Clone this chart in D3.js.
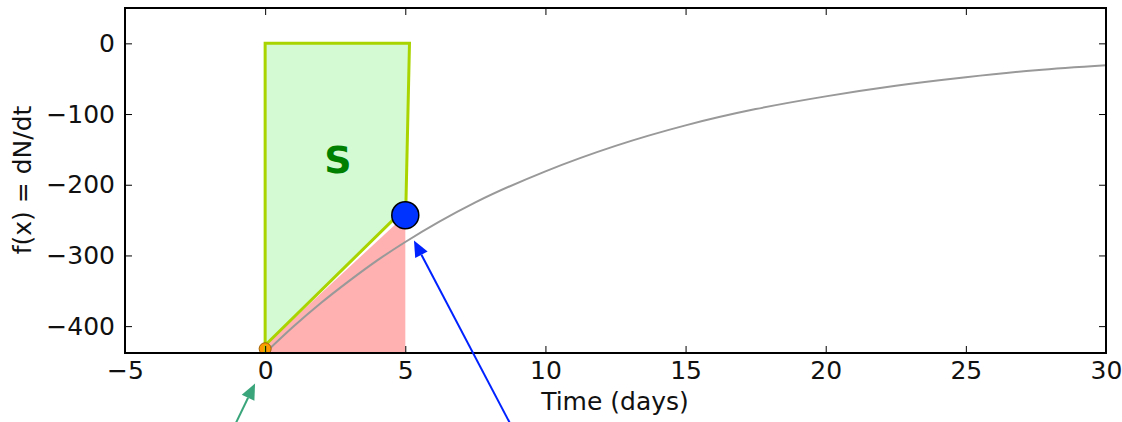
<!DOCTYPE html>
<html>
<head>
<meta charset="utf-8">
<script src="https://cdn.jsdelivr.net/npm/d3@7"></script>
<style>
  body { margin: 0; background: #fff; }
  svg { display: block; font-family: "DejaVu Sans", sans-serif; }
  .tick text { font-family: "DejaVu Sans", sans-serif; font-size: 25px; fill: #111; }
</style>
</head>
<body>
<svg id="chart" width="1122" height="422"></svg>
<script>
(function(d3) {

  // Tick values
  var xTicks = [-5, 0, 5, 10, 15, 20, 25, 30];
  var yTicks = [-400, -300, -200, -100, 0];

  // Grey decay curve
  var curveX = [0, 1, 2, 3, 4, 5, 7.5, 10, 12.5, 15, 17.5, 20, 22.5, 25, 27.5, 30];
  var curveY = [-438, -401, -367, -336, -307, -281, -225, -181, -145, -116, -93, -75, -60, -48, -38, -31];

  // Green "S" area and red area under the secant
  var sX = [0, 0, 5.15, 5.02, 0];
  var sY = [-427, 0, 0, -232, -427];
  var redX = [0, 0, 5, 5];
  var redY = [-438, -427, -243, -438];

  // Points
  var startPt = [0, -432];
  var endPt = [5, -243];

  // Annotation arrows [tailX, tailY, tipX, tipY]
  var greenArrow = [-1.08, -540, -0.36, -481];
  var blueArrow = [8.77, -540, 5.31, -279];

  var margin = {top: 8, right: 16, bottom: 69, left: 125},
      W = 1122, H = 422,
      w = W - margin.left - margin.right,
      h = H - margin.top - margin.bottom;

  var svg = d3.select("#chart");

  var x = d3.scaleLinear().domain([-5, 30]).range([0, w]);
  var y = d3.scaleLinear().domain([-438, 50]).range([h, 0]);

  var g = svg.append("g")
    .attr("transform", "translate(" + margin.left + "," + margin.top + ")");

  g.append("clipPath").attr("id", "clip")
    .append("rect").attr("width", w).attr("height", h);

  var plot = g.append("g").attr("clip-path", "url(#clip)");

  var line = d3.line()
    .x(function(d) { return x(d[0]); })
    .y(function(d) { return y(d[1]); });

  // Red area
  plot.append("path")
    .attr("d", line(d3.zip(redX, redY)) + "Z")
    .attr("fill", "#ffb0b0")
    .attr("stroke", "none");

  // Green area
  plot.append("path")
    .attr("d", line(d3.zip(sX, sY)) + "Z")
    .attr("fill", "#d3fad3")
    .attr("stroke", "#aad400")
    .attr("stroke-width", 3)
    .attr("stroke-linejoin", "miter");

  // Curve
  var smooth = d3.line()
    .x(function(d) { return x(d[0]); })
    .y(function(d) { return y(d[1]); })
    .curve(d3.curveMonotoneX);
  plot.append("path")
    .attr("d", smooth(d3.zip(curveX, curveY)))
    .attr("fill", "none")
    .attr("stroke", "#999")
    .attr("stroke-width", 2);

  // Start point (orange)
  plot.append("circle")
    .attr("cx", x(startPt[0]))
    .attr("cy", y(startPt[1]))
    .attr("r", 6)
    .attr("fill", "#ff9900")
    .attr("stroke", "#a06000")
    .attr("stroke-width", 1);
  plot.append("line")
    .attr("x1", x(0)).attr("x2", x(0))
    .attr("y1", y(-438)).attr("y2", y(-427))
    .attr("stroke", "#aad400").attr("stroke-width", 2);

  // End point (blue)
  plot.append("circle")
    .attr("cx", x(endPt[0]))
    .attr("cy", y(endPt[1]))
    .attr("r", 13.5)
    .attr("fill", "#0033ff")
    .attr("stroke", "#000")
    .attr("stroke-width", 1.5);

  // S label
  plot.append("text")
    .attr("x", x(2.6))
    .attr("y", y(-184))
    .attr("text-anchor", "middle")
    .attr("font-size", 38)
    .attr("font-weight", "bold")
    .attr("fill", "#008000")
    .text("S");

  // Axes, ticks inside on all four sides
  function style(sel) {
    sel.select(".domain").remove();
    sel.selectAll(".tick line").attr("stroke", "#000").attr("stroke-width", 1);
  }

  function minus(d) { return d < 0 ? "\u2212" + Math.abs(d) : d; }

  g.append("g")
    .attr("transform", "translate(0," + h + ")")
    .call(d3.axisBottom(x).tickValues(xTicks).tickSizeInner(-7).tickSizeOuter(0).tickPadding(8)
      .tickFormat(minus))
    .call(style);

  g.append("g")
    .call(d3.axisTop(x).tickValues(xTicks).tickSizeInner(-7).tickSizeOuter(0).tickFormat(""))
    .call(style);

  g.append("g")
    .call(d3.axisLeft(y).tickValues(yTicks).tickSizeInner(-7).tickSizeOuter(0).tickPadding(10)
      .tickFormat(minus))
    .call(style);

  g.append("g")
    .attr("transform", "translate(" + w + ",0)")
    .call(d3.axisRight(y).tickValues(yTicks).tickSizeInner(-7).tickSizeOuter(0).tickFormat(""))
    .call(style);

  g.append("rect")
    .attr("width", w).attr("height", h)
    .attr("fill", "none")
    .attr("stroke", "#000")
    .attr("stroke-width", 2);

  // Axis labels
  g.append("text")
    .attr("x", 490)
    .attr("y", h + 57)
    .attr("text-anchor", "middle")
    .attr("font-size", 25)
    .attr("fill", "#111")
    .text("Time (days)");

  svg.append("text")
    .attr("transform", "translate(31," + (margin.top + 172) + ") rotate(-90)")
    .attr("text-anchor", "middle")
    .attr("font-size", 25)
    .attr("fill", "#111")
    .text("f(x) = dN/dt");

  // Arrows
  function arrow(a, color) {
    var x0 = x(a[0]), y0 = y(a[1]), x1 = x(a[2]), y1 = y(a[3]);
    var ang = Math.atan2(y1 - y0, x1 - x0),
        len = 16, half = 7;
    var bx = x1 - len * Math.cos(ang), by = y1 - len * Math.sin(ang);
    g.append("line")
      .attr("x1", x0).attr("y1", y0)
      .attr("x2", bx).attr("y2", by)
      .attr("stroke", color).attr("stroke-width", 2);
    var pts = [
      [x1, y1],
      [bx + half * Math.sin(ang), by - half * Math.cos(ang)],
      [bx - half * Math.sin(ang), by + half * Math.cos(ang)]
    ];
    g.append("path")
      .attr("d", "M" + pts.join("L") + "Z")
      .attr("fill", color);
  }

  arrow(greenArrow, "#3aa57a");
  arrow(blueArrow, "#0022ff");

})(d3);
</script>
</body>
</html>
